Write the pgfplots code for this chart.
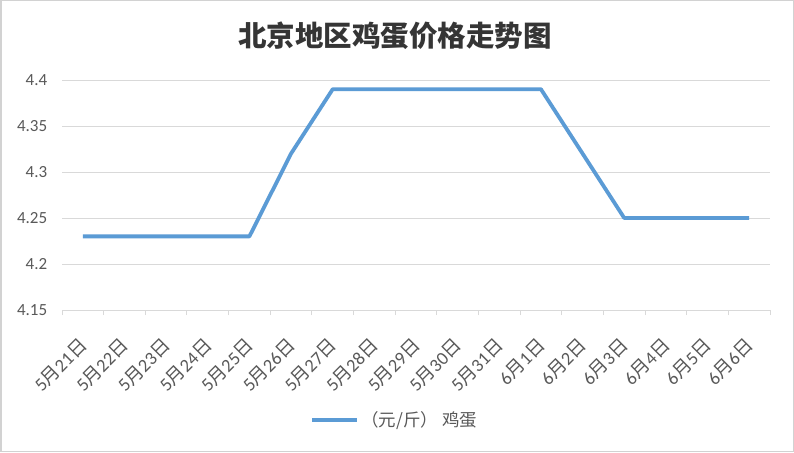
\documentclass[border=0pt]{standalone}
\usepackage{pgfplots}
\pgfplotsset{compat=1.18}
\usepackage{fontspec}
\setmainfont{Carlito}
\newfontfamily\cjk{Noto Sans CJK SC}
\definecolor{linecol}{HTML}{5B9BD5}
\definecolor{txtcol}{HTML}{595959}
\definecolor{gridcol}{HTML}{D9D9D9}
\begin{document}
\begin{tikzpicture}[x=1pt,y=1pt]
% page frame
\draw[fill=white,draw=gray!35,line width=1.5pt] (0.75,0.75) rectangle (793.25,451.25);
\node[text=txtcol!60!black,font=\cjk\bfseries\fontsize{28.5}{32}\selectfont] at (395,416) {北京地区鸡蛋价格走势图};
\begin{axis}[
at={(62pt,142pt)},
anchor=south west,
width=708pt,
height=230pt,
scale only axis,
xmin=-0.5, xmax=16.5,
ymin=4.15, ymax=4.4,
ytick={4.15,4.2,...,4.4},
yticklabel style={/pgf/number format/fixed,/pgf/number format/precision=2,text=txtcol,font=\fontsize{17}{19}\selectfont,xshift=-7pt},
/pgf/number format/assume math mode=true,
xtick={0,...,16},
xticklabels={5{\cjk 月}21{\cjk 日},5{\cjk 月}22{\cjk 日},5{\cjk 月}23{\cjk 日},5{\cjk 月}24{\cjk 日},5{\cjk 月}25{\cjk 日},5{\cjk 月}26{\cjk 日},5{\cjk 月}27{\cjk 日},5{\cjk 月}28{\cjk 日},5{\cjk 月}29{\cjk 日},5{\cjk 月}30{\cjk 日},5{\cjk 月}31{\cjk 日},6{\cjk 月}1{\cjk 日},6{\cjk 月}2{\cjk 日},6{\cjk 月}3{\cjk 日},6{\cjk 月}4{\cjk 日},6{\cjk 月}5{\cjk 日},6{\cjk 月}6{\cjk 日}},
xticklabel style={rotate=45,anchor=north east,text=txtcol,font=\fontsize{18.5}{20}\selectfont,inner sep=0pt,xshift=-19pt,yshift=-12pt},
major x tick style={draw=none},
minor xtick={-0.5,0.5,...,16.5},
minor x tick style={draw=gridcol,line width=1pt},
minor tick length=5pt,
tick align=outside,
ytick style={draw=none},
ymajorgrids,
grid style={draw=gridcol,line width=0.9pt},
axis x line*=bottom,
axis y line*=left,
x axis line style={draw=gridcol,line width=1pt,-},
y axis line style={draw=none},
legend style={at={(0.47,-0.478)},anchor=center,draw=none,fill=none,
  font=\cjk\fontsize{17.5}{19}\selectfont,text=txtcol},
legend image code/.code={\draw[#1] (0pt,0pt) -- (45pt,0pt);},
]
\addplot[color=linecol,line width=3.8pt,line join=round] coordinates {
(0,4.23) (1,4.23) (2,4.23) (3,4.23) (4,4.23) (5,4.32) (6,4.39) (7,4.39) (8,4.39)
(9,4.39) (10,4.39) (11,4.39) (12,4.32) (13,4.25) (14,4.25) (15,4.25) (16,4.25)};
\addlegendentry{（元/斤） 鸡蛋}
\end{axis}
\end{tikzpicture}
\end{document}
